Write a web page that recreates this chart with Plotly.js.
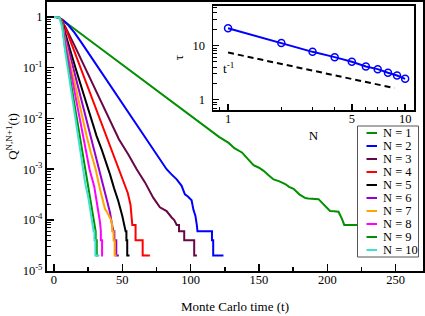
<!DOCTYPE html>
<html><head><meta charset="utf-8">
<script src="https://cdn.plot.ly/plotly-3.0.1.min.js"></script>
<style>html,body{margin:0;padding:0;background:#fff;} #chart{width:425px;height:316px;}</style>
</head><body><div id="chart"></div>
<script>
const seriesNames = ['N = 1','N = 2','N = 3','N = 4','N = 5','N = 6','N = 7','N = 8','N = 9','N = 10'];
const seriesColors = ['#009000','#0000ff','#670748','#ff0000','#000000','#9400d3','#ffa500','#ff00ff','#009000','#40e0d0'];

const t1 = [0,1,2,3,5,10,20,35,50,65,80,95,105,115.6,121,127.8,132,137.5,142,146,150,153.4,157,160.7,165,169.2,172,175.3,179.5,183.9,186,190,193.6,196,198.5,202,205,208.2,210.7,212.4,223,226,226,236,236,248];
const q1 = [1,1,0.995,0.985,0.92,0.73,0.461,0.231,0.116,0.058,0.0291,0.0146,9.1e-3,5.4e-3,4.3e-3,3.3e-3,2.6e-3,2.14e-3,1.58e-3,1.2e-3,1.07e-3,9.3e-4,7.6e-4,6.3e-4,5.75e-4,5.1e-4,4.5e-4,4.1e-4,3.2e-4,2.7e-4,2.66e-4,2.62e-4,2.57e-4,2.2e-4,1.86e-4,1.5e-4,1.48e-4,1.45e-4,1.05e-4,8e-5,8e-5,8e-5,6e-5,6e-5,4e-5,4e-5];

const t2 = [0,1,2,4,7,10,15,20,30,40,50,60,67.5,71,75.1,79,82.4,86,89.8,93.4,95.8,98,100.7,102,103.5,104.5,105,115.6,115.6,116.5,116.5,124];
const q2 = [1,1,0.995,0.96,0.85,0.71,0.49,0.316,0.126,0.05,0.02,7.9e-3,4.1e-3,2.8e-3,1.95e-3,1.35e-3,1e-3,7.9e-4,6.3e-4,4.7e-4,3.2e-4,2.9e-4,2.45e-4,1.6e-4,1.2e-4,8e-5,6e-5,6e-5,4e-5,4e-5,2e-5,2e-5];

const t3 = [0,1,2,4,8,15,25,35,47.5,54.4,60.5,66.6,72.6,77.5,80,82.4,86.1,88,89.8,91.5,91.5,95.3,95.3,102.6,102.6,104.6];
const q3 = [1,1,0.995,0.94,0.66,0.275,0.074,0.02,3.9e-3,1.95e-3,1e-3,5.5e-4,2.75e-4,1.78e-4,1.62e-4,1.5e-4,1.12e-4,1e-4,8e-5,8e-5,6e-5,6e-5,4e-5,4e-5,2e-5,2e-5];

const t4 = [0,1,2,4,6,10,15,20,25,30,38.5,42,45,47.5,51,54,56,57,57.3,59.7,59.7,64.9,64.9,70.2];
const q4 = [1,1,0.995,0.95,0.87,0.47,0.208,0.092,0.041,0.018,4.5e-3,2.6e-3,1.6e-3,1e-3,5.6e-4,3.4e-4,2e-4,1.2e-4,8e-5,8e-5,4e-5,4e-5,2e-5,2e-5];

const t5 = [0,1,2,4,6,8,12,16,20,25,31.2,35,38,41,44,47,50,51.5,52.4,53,53,53.6,53.6,55.3];
const q5 = [1,1,0.995,0.95,0.83,0.5,0.21,0.094,0.042,0.0155,4.5e-3,2.4e-3,1.4e-3,7.9e-4,4.2e-4,2.4e-4,1.2e-4,8e-5,6e-5,6e-5,4e-5,4e-5,2e-5,2e-5];

const t6 = [0,1,2,4,6,8,12,16,20,26.8,30,33.5,36,38.5,41,42.5,43.5,44.2,44.2,45.6,45.6,47.5];
const q6 = [1,1,0.995,0.955,0.8,0.44,0.165,0.062,0.0234,4.5e-3,2.2e-3,9.5e-4,5e-4,2.75e-4,1.4e-4,8e-5,6e-5,6e-5,4e-5,4e-5,2e-5,2e-5];

const t7 = [0,1,2,4,6,8,12,16,20,23.9,27,30.5,33.6,35.5,37.3,39,41,41.8,42.6,42.6,43.6,43.6,44.4,44.4,45.8];
const q7 = [1,1,0.995,0.96,0.78,0.36,0.115,0.038,0.0129,4.5e-3,2.1e-3,1e-3,4.1e-4,2.5e-4,1.66e-4,1.4e-4,1.12e-4,1e-4,8e-5,6e-5,6e-5,4e-5,4e-5,2e-5,2e-5];

const t8 = [0,1,2,4,6,8,12,16,21.5,26,29.5,32.3,33.7,34.3,34.3,35.2,35.2,35.8];
const q8 = [1,1,0.995,0.965,0.74,0.33,0.092,0.026,4.5e-3,1e-3,4.5e-4,1.66e-4,9e-5,6e-5,4e-5,4e-5,2e-5,2e-5];

const t9 = [0,1,2,4,6,8,12,15,19,23,26.8,29,29.6,30.5,30.5,31.3,31.3,32.3];
const q9 = [1,1,0.995,0.97,0.72,0.26,0.058,0.019,4.5e-3,1e-3,2.5e-4,1e-4,8e-5,6e-5,4e-5,4e-5,2e-5,2e-5];

const t10 = [0,1,2,4,6,8,12,15,17.8,21,23,25.1,27,28.3,29,29.6,29.6,30.3,30.3,33.3];
const q10 = [1,1,0.995,0.97,0.63,0.23,0.045,0.0135,4.5e-3,1.12e-3,5e-4,2.8e-4,1.26e-4,8e-5,6e-5,6e-5,4e-5,4e-5,2e-5,2e-5];

const insetN = [1,2,3,4,5,6,7,8,9,10];
const insetTau = [20.9,11.1,7.66,6.11,5.01,4.10,3.67,3.14,2.80,2.43];
const guideN = [1,8.7];
const guideTau = [7.43,1.64];

const xTickVals = [0,50,100,150,200,250];
const xTickText = ['0','50','100','150','200','250'];
const yTickVals = [1e-5,1e-4,1e-3,1e-2,1e-1,1];
const yTickText = ['10<sup>-5</sup>','10<sup>-4</sup>','10<sup>-3</sup>','10<sup>-2</sup>','10<sup>-1</sup>','1'];
const insetXTickVals = [1,5,10];
const insetXTickText = ['1','5','10'];
const insetYTickVals = [1,10];
const insetYTickText = ['1','10'];

const TS = [t1,t2,t3,t4,t5,t6,t7,t8,t9,t10];
const QS = [q1,q2,q3,q4,q5,q6,q7,q8,q9,q10];

const FONT = 'Liberation Serif, Times New Roman, serif';

const traces = TS.map((t,i)=>({
  x: t, y: QS[i], type:'scatter', mode:'lines', name: seriesNames[i],
  line:{color: seriesColors[i], width:2}, showlegend:false, hoverinfo:'skip'
}));
traces.push({x: guideN, y: guideTau, xaxis:'x2', yaxis:'y2', type:'scatter', mode:'lines',
  line:{color:'#000', width:2, dash:'6px,4px'}, showlegend:false});
traces.push({x: insetN, y: insetTau, xaxis:'x2', yaxis:'y2', type:'scatter', mode:'lines+markers',
  line:{color:'#0000ff', width:2}, marker:{symbol:'circle-open', size:7, color:'#0000ff', line:{width:1.5, color:'#0000ff'}}, showlegend:false});

// minor tick positions
const yMinor = [];
for (let k=-5;k<=0;k++){ for (let m=2;m<=9;m++){ yMinor.push(m*Math.pow(10,k)); } }
const insetXMinor = [0.9,2,3,4,6,7,8,9];
const insetYMinor = [0.7,0.8,0.9,2,3,4,5,6,7,8,9,20,30,40,50];

// custom legend geometry (pixels -> paper)
const PL=47, PT=2, PW=376, PH=269;
const px = x => (x-PL)/PW;
const py = y => (PT+PH-y)/PH;
const shapes = [{type:'rect', xref:'paper', yref:'paper', x0:px(357.5), x1:px(418.5), y0:py(257), y1:py(126),
  line:{color:'#555', width:1}, fillcolor:'#fff', layer:'above'}];
const annotations = [];
seriesNames.forEach((n,i)=>{
  const yy = 133 + 13*i;
  shapes.push({type:'line', xref:'paper', yref:'paper', x0:px(366.5), x1:px(377), y0:py(yy), y1:py(yy),
    line:{color: seriesColors[i], width:2}, layer:'above'});
  annotations.push({xref:'paper', yref:'paper', x:px(382), y:py(yy), xanchor:'left', yanchor:'middle',
    text:n, showarrow:false, font:{family:FONT, size:12.5, color:'#000'}, borderpad:0});
});
annotations.push({xref:'x2', yref:'y2', x:0.001, y:0.589, xanchor:'center', yanchor:'middle',
  text:'t<sup>-1</sup>', showarrow:false, font:{family:FONT, size:13, color:'#000'}, borderpad:0});

const axBase = {showgrid:false, zeroline:false, showline:true, linecolor:'#000', mirror:true,
  ticks:'inside', tickcolor:'#000', tickfont:{family:FONT, size:12.5, color:'#000'}};

const layout = {
  width:425, height:316,
  margin:{l:PL, r:425-PL-PW, t:PT, b:316-PT-PH, pad:0},
  paper_bgcolor:'#fff', plot_bgcolor:'#fff',
  font:{family:FONT, size:13, color:'#000'},
  showlegend:false,
  xaxis: Object.assign({}, axBase, {range:[-5.1,270], linewidth:2, ticklen:7, tickwidth:1.5,
    tickmode:'array', tickvals:xTickVals, ticktext:xTickText, ticklabelstandoff:-4,
    minor:{dtick:25, tick0:0, ticks:'inside', ticklen:4, tickwidth:1.5, tickcolor:'#000', showgrid:false},
    title:{text:'Monte Carlo time (t)', font:{family:FONT, size:13}, standoff:16}}),
  yaxis: Object.assign({}, axBase, {type:'log', range:[-5.005,0.294], linewidth:2, ticklen:7, tickwidth:1.5,
    tickmode:'array', tickvals:yTickVals, ticktext:yTickText,
    minor:{tickmode:'array', tickvals:yMinor, ticks:'inside', ticklen:4, tickwidth:1, tickcolor:'#000', showgrid:false},
    title:{text:'Q<sup>N,N+1</sup>(t)', font:{family:FONT, size:13}, standoff:2}}),
  xaxis2: Object.assign({}, axBase, {type:'log', domain:[px(213), px(414)], anchor:'y2', range:[-0.085,1.05],
    linewidth:1.5, ticklen:6, tickwidth:1.5, tickmode:'array', tickvals:insetXTickVals, ticktext:insetXTickText,
    ticklabelstandoff:-4,
    minor:{tickmode:'array', tickvals:insetXMinor, ticks:'inside', ticklen:3.5, tickwidth:1, tickcolor:'#000', showgrid:false},
    title:{text:'N', font:{family:FONT, size:13}, standoff:6}}),
  yaxis2: Object.assign({}, axBase, {type:'log', domain:[py(110), py(5.5)], anchor:'x2', range:[-0.19,1.74],
    linewidth:1.5, ticklen:6, tickwidth:1.5, tickmode:'array', tickvals:insetYTickVals, ticktext:insetYTickText,
    ticklabelstandoff:4,
    minor:{tickmode:'array', tickvals:insetYMinor, ticks:'inside', ticklen:3.5, tickwidth:1, tickcolor:'#000', showgrid:false},
    title:{text:'τ', font:{family:FONT, size:13}, standoff:6}}),
  shapes: shapes,
  annotations: annotations
};

Plotly.newPlot('chart', traces, layout, {staticPlot:true, displayModeBar:false});
</script></body></html>
